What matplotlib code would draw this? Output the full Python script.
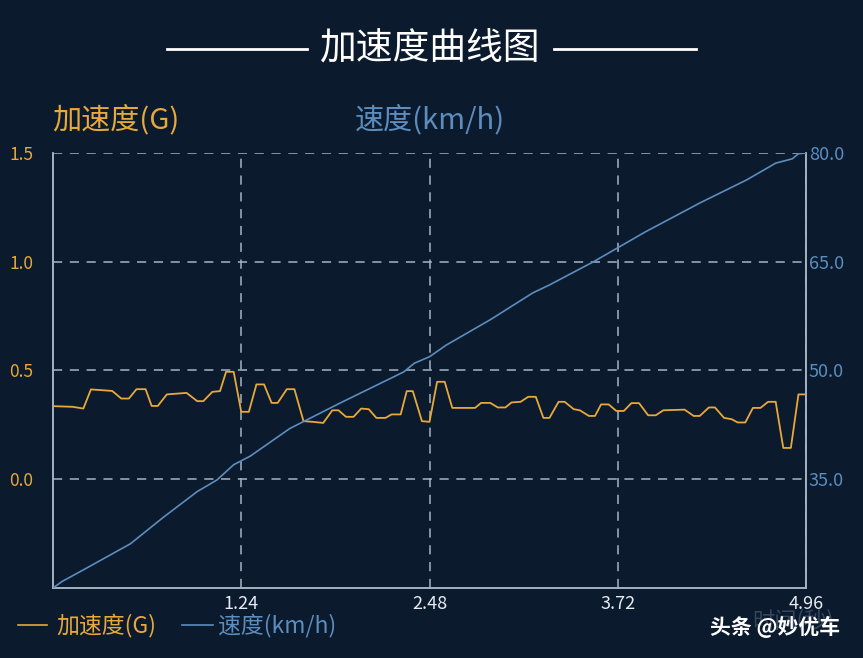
import matplotlib
matplotlib.use("Agg")
import matplotlib.pyplot as plt
from matplotlib.lines import Line2D

plt.rcParams['font.family'] = ['Noto Sans CJK SC', 'DejaVu Sans']

# time (s) and acceleration (G)
acc_t = [0.00, 0.13, 0.20, 0.25, 0.39, 0.45, 0.50, 0.55, 0.61, 0.65, 0.69, 0.75,
         0.88, 0.95, 0.99, 1.05, 1.10, 1.14, 1.19, 1.24, 1.29, 1.34, 1.39, 1.44,
         1.48, 1.54, 1.59, 1.65, 1.71, 1.78, 1.84, 1.88, 1.93, 1.98, 2.03, 2.08,
         2.13, 2.19, 2.23, 2.29, 2.33, 2.37, 2.43, 2.48, 2.53, 2.58, 2.63, 2.78,
         2.82, 2.88, 2.93, 2.98, 3.02, 3.08, 3.13, 3.18, 3.23, 3.27, 3.33, 3.37,
         3.43, 3.47, 3.53, 3.57, 3.61, 3.66, 3.71, 3.76, 3.81, 3.86, 3.92, 3.97,
         4.02, 4.16, 4.22, 4.26, 4.32, 4.36, 4.42, 4.47, 4.51, 4.56, 4.61, 4.66,
         4.71, 4.76, 4.81, 4.86, 4.91, 4.96]
acc_g = [0.336, 0.333, 0.325, 0.413, 0.406, 0.371, 0.371, 0.414, 0.414, 0.337, 0.337, 0.390,
         0.397, 0.359, 0.359, 0.402, 0.405, 0.494, 0.494, 0.310, 0.310, 0.436, 0.436, 0.351,
         0.351, 0.414, 0.414, 0.267, 0.264, 0.259, 0.317, 0.317, 0.287, 0.287, 0.325, 0.322,
         0.282, 0.282, 0.298, 0.298, 0.405, 0.405, 0.267, 0.264, 0.448, 0.448, 0.328, 0.328,
         0.351, 0.351, 0.330, 0.330, 0.353, 0.356, 0.379, 0.379, 0.282, 0.282, 0.356, 0.356,
         0.322, 0.317, 0.291, 0.291, 0.344, 0.344, 0.314, 0.314, 0.350, 0.350, 0.294, 0.294,
         0.317, 0.320, 0.291, 0.291, 0.330, 0.330, 0.282, 0.276, 0.261, 0.261, 0.328, 0.328,
         0.356, 0.356, 0.144, 0.144, 0.390, 0.390]

# time (s) and speed (km/h)
spd_t = [0.00, 0.06, 0.20, 0.51, 0.73, 0.95, 1.08, 1.19, 1.30, 1.56, 1.89, 2.31, 2.38,
         2.48, 2.59, 2.88, 3.16, 3.27, 3.56, 3.90, 4.26, 4.57, 4.76, 4.87, 4.91, 4.96]
spd_v = [20.0, 20.9, 22.5, 26.1, 29.8, 33.3, 34.9, 37.0, 38.2, 42.0, 45.5, 49.8, 51.0,
         51.9, 53.5, 57.0, 60.7, 61.8, 65.0, 69.1, 73.1, 76.3, 78.6, 79.2, 79.9, 80.0]

x_ticks = [1.24, 2.48, 3.72, 4.96]
acc_ticks = [0.0, 0.5, 1.0, 1.5]
spd_ticks = [35.0, 50.0, 65.0, 80.0]

bg = '#0b1a2c'
orange = '#e8a93a'
blue = '#5b8dbf'
grid_c = '#a6b4c4'
spine_c = '#a8b6c6'

fig = plt.figure(figsize=(8.63, 6.58), dpi=100, facecolor=bg)
ax = fig.add_axes([0.0614, 0.1064, 0.8726, 0.6611], facecolor=bg)
ax2 = ax.twinx()

ax.plot(acc_t, acc_g, color=orange, lw=1.3, zorder=3)
ax2.plot(spd_t, spd_v, color=blue, lw=1.2, zorder=3)

ax.set_xlim(0, 4.96)
ax.set_ylim(-0.5, 1.5)
ax2.set_ylim(20, 80)

ax.set_xticks(x_ticks)
ax.set_xticklabels([f'{v:.2f}' for v in x_ticks])
ax.set_yticks(acc_ticks)
ax.set_yticklabels([f'{v:.1f}' for v in acc_ticks])
ax2.set_yticks(spd_ticks)
ax2.set_yticklabels([f'{v:.1f}' for v in spd_ticks])

ax.grid(True, color=grid_c, ls=(0, (6, 5)), lw=1.1)
ax.tick_params(axis='x', length=0, pad=5, colors='#e6ecf2', labelsize=13)
ax.tick_params(axis='y', length=0, pad=14, colors=orange, labelsize=12.5)
ax2.tick_params(axis='y', length=0, pad=2, colors=blue, labelsize=13)

for a in (ax, ax2):
    a.spines['top'].set_visible(False)
    for s in ('left', 'bottom', 'right'):
        a.spines[s].set_color(spine_c)
        a.spines[s].set_linewidth(1.1)

# title with side rules
ty = 1 - 49 / 658
fig.text(429 / 863, ty, '加速度曲线图', color='white', fontsize=26.5,
         ha='center', va='center')
fig.add_artist(Line2D([167 / 863, 307 / 863], [ty, ty], color='white', lw=2))
fig.add_artist(Line2D([554 / 863, 696 / 863], [ty, ty], color='white', lw=2))

# axis headers
fig.text(52 / 863, 1 - 120 / 658, '加速度(G)', color=orange, fontsize=21,
         ha='left', va='center')
fig.text(355 / 863, 1 - 120 / 658, '速度(km/h)', color=blue, fontsize=21,
         ha='left', va='center')

# bottom legend
ly = 1 - 625 / 658
fig.add_artist(Line2D([18 / 863, 47 / 863], [ly, ly], color=orange, lw=1.2))
fig.text(56 / 863, ly, '加速度(G)', color=orange, fontsize=16.5, ha='left', va='center')
fig.add_artist(Line2D([182 / 863, 213 / 863], [ly, ly], color=blue, lw=1.2))
fig.text(218 / 863, ly, '速度(km/h)', color=blue, fontsize=16.5, ha='left', va='center')

# faint x label and watermark
fig.text(793 / 863, 1 - 621 / 658, '时间(秒)', color='#34465e', fontsize=16,
         ha='center', va='center')
fig.text(775 / 863, 1 - 627 / 658, '头条 @妙优车', color='white', fontsize=15,
         fontweight='bold', ha='center', va='center')

fig.savefig('out.png', dpi=100, facecolor=bg)
